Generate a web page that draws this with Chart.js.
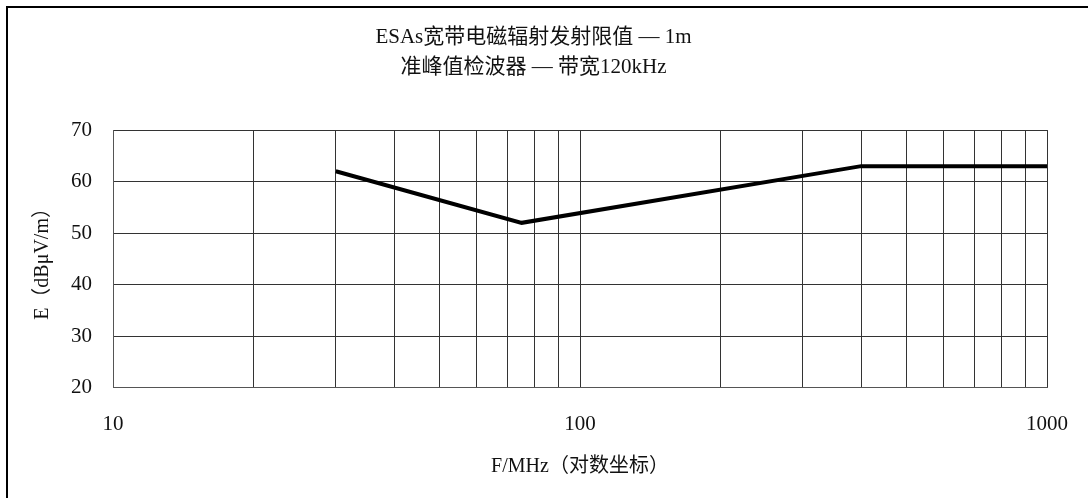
<!DOCTYPE html>
<html>
<head>
<meta charset="utf-8">
<script src="https://cdn.jsdelivr.net/npm/chart.js@4/dist/chart.umd.min.js"></script>
<style>
  html, body { margin: 0; padding: 0; background: #fff; }
  #wrap { width: 1088px; height: 498px; }
</style>
</head>
<body>
<div id="wrap"><canvas id="grafica"></canvas></div>
<script>
// Datos
var frecuencias = [30, 75, 400, 1000];      // MHz
var limites = [62, 52, 63, 63];              // dBµV/m
var ticksX = [10, 20, 30, 40, 50, 60, 70, 80, 90, 100, 200, 300, 400, 500, 600, 700, 800, 900, 1000];
var etiquetasX = [10, 100, 1000];
var titulo = ['ESAs宽带电磁辐射发射限值 — 1m', '准峰值检波器 — 带宽120kHz'];

var fuente = "'Liberation Serif', 'Noto Sans CJK SC', serif";

// Marco exterior (solo se ven los lados izquierdo y superior)
var marco = {
    id: 'marco',
    beforeDraw: function(chart) {
        var c = chart.ctx;
        c.save();
        c.fillStyle = '#fff';
        c.fillRect(0, 0, chart.width, chart.height);
        c.strokeStyle = '#000';
        c.lineWidth = 2;
        c.strokeRect(7, 7, chart.width + 20, chart.height + 20);
        c.restore();
    }
};

var ctx = document.getElementById('grafica').getContext('2d');
new Chart(ctx, {
    type: 'line',
    data: {
        datasets: [{
            label: 'Límite',
            data: frecuencias.map(function(f, i) { return { x: f, y: limites[i] }; }),
            borderColor: '#000',
            borderWidth: 4,
            pointRadius: 0,
            tension: 0,
            fill: false
        }]
    },
    options: {
        responsive: true,
        maintainAspectRatio: false,
        animation: false,
        layout: { padding: { left: 20, right: 41, top: 22, bottom: 5 } },
        plugins: {
            legend: { display: false },
            tooltip: { enabled: false },
            title: {
                display: true,
                text: titulo,
                color: '#111',
                font: { family: fuente, size: 21, weight: 'normal', lineHeight: 1.43 },
                padding: { top: 0, bottom: 48 }
            }
        },
        scales: {
            x: {
                type: 'logarithmic',
                min: 10,
                max: 1000,
                afterBuildTicks: function(axis) {
                    axis.ticks = ticksX.map(function(v) { return { value: v }; });
                },
                afterFit: function(axis) {
                    // sin margen extra por la etiqueta "1000"
                    axis.paddingRight = 0;
                },
                ticks: {
                    autoSkip: false,
                    maxRotation: 0,
                    padding: 24,
                    color: '#111',
                    font: { family: fuente, size: 21 },
                    callback: function(v) { return etiquetasX.indexOf(v) >= 0 ? String(v) : ''; }
                },
                grid: { color: '#333', lineWidth: 1, drawTicks: false },
                border: { color: '#555', width: 1 },
                title: {
                    display: true,
                    text: 'F/MHz（对数坐标）',
                    color: '#111',
                    font: { family: fuente, size: 20, lineHeight: 0.6 },
                    padding: { top: 0, bottom: 20 }
                }
            },
            y: {
                min: 20,
                max: 70,
                ticks: {
                    stepSize: 10,
                    padding: 21,
                    color: '#111',
                    font: { family: fuente, size: 21 }
                },
                grid: { color: '#333', lineWidth: 1, drawTicks: false },
                border: { color: '#555', width: 1 },
                title: {
                    display: true,
                    text: 'E（dBμV/m）',
                    color: '#111',
                    font: { family: fuente, size: 20, lineHeight: 1 },
                    padding: { top: 13, bottom: -3 }
                }
            }
        }
    },
    plugins: [marco]
});
</script>
</body>
</html>
